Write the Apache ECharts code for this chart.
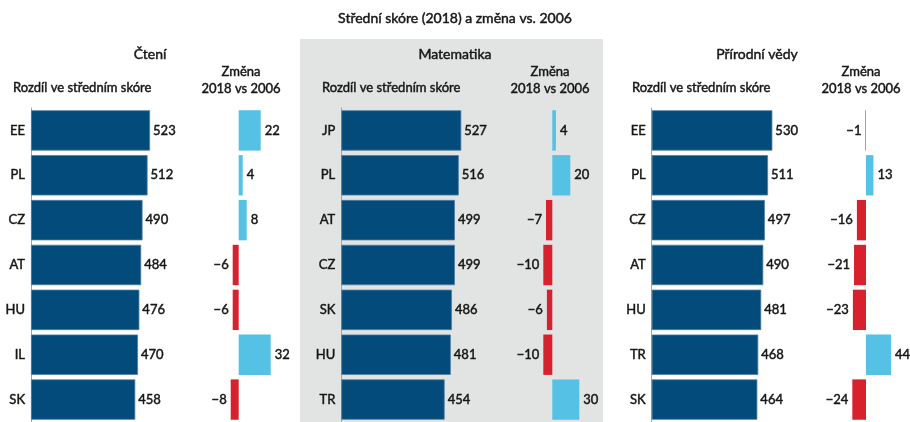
<!DOCTYPE html>
<html>
<head>
<meta charset="utf-8">
<script src="https://cdn.jsdelivr.net/npm/echarts@6/dist/echarts.min.js"></script>
<style>
html,body{margin:0;padding:0;background:#fff;}
#c{width:910px;height:422px;}
</style>
</head>
<body>
<div id="c"></div>
<script>
var chartTitle = 'Střední skóre (2018) a změna vs. 2006';
var panelTitles = ['Čtení', 'Matematika', 'Přírodní vědy'];
var scoreHeader = 'Rozdíl ve středním skóre';
var changeHeader = 'Změna\n2018 vs 2006';

var readingCountries = ['EE', 'PL', 'CZ', 'AT', 'HU', 'IL', 'SK'];
var readingScores = [523, 512, 490, 484, 476, 470, 458];
var readingChange = [22, 4, 8, -6, -6, 32, -8];

var mathCountries = ['JP', 'PL', 'AT', 'CZ', 'SK', 'HU', 'TR'];
var mathScores = [527, 516, 499, 499, 486, 481, 454];
var mathChange = [4, 20, -7, -10, -6, -10, 30];

var scienceCountries = ['EE', 'PL', 'CZ', 'AT', 'HU', 'TR', 'SK'];
var scienceScores = [530, 511, 497, 490, 481, 468, 464];
var scienceChange = [-1, 13, -16, -21, -23, 44, -24];

var FONT = 'Lato, "DejaVu Sans", sans-serif';
var TXT = '#161616';
var NAVY = '#034b7b';
var POS = '#55c1e4';
var NEG = '#d7222e';
var THICK = 0.45;

var panels = [
  {cats: readingCountries, scores: readingScores, change: readingChange,
   barLeft: 31, chLeft: 198.7, chWidth: 80, chMin: -40, chMax: 40, center: 150, chCenter: 241},
  {cats: mathCountries, scores: mathScores, change: mathChange,
   barLeft: 341.3, chLeft: 516.3, chWidth: 72, chMin: -40, chMax: 40, center: 455, chCenter: 550},
  {cats: scienceCountries, scores: scienceScores, change: scienceChange,
   barLeft: 651.7, chLeft: 843.2, chWidth: 57, chMin: -40, chMax: 60, center: 757, chCenter: 861}
];
var scoreLeftText = [13, 322, 632];

var grids = [], xAxes = [], yAxes = [], series = [], graphics = [];

function txtStyle(text, size, align) {
  return {text: text, font: size + 'px ' + FONT, fill: TXT, textAlign: align, textVerticalAlign: 'middle',
    stroke: TXT, lineWidth: THICK};
}

graphics.push({type: 'rect', z: -10, shape: {x: 300, y: 39, width: 303, height: 383}, style: {fill: '#e2e3e3'}});
graphics.push({type: 'text', x: 455, y: 18, style: txtStyle(chartTitle, 14, 'center')});

panels.forEach(function (p, i) {
  var gi = grids.length;
  grids.push({left: p.barLeft, top: 108, width: 136.6, height: 314});
  grids.push({left: p.chLeft, top: 108, width: p.chWidth, height: 314});
  xAxes.push({type: 'value', gridIndex: gi, min: 0, max: 600, show: false});
  xAxes.push({type: 'value', gridIndex: gi + 1, min: p.chMin, max: p.chMax, show: false});
  yAxes.push({type: 'category', gridIndex: gi, data: p.cats, inverse: true,
    axisLine: {show: true, lineStyle: {color: '#8fa9c2', width: 1}},
    axisTick: {show: false}, splitLine: {show: false},
    axisLabel: {margin: 6, fontSize: 13, fontFamily: FONT, color: TXT,
      textBorderColor: TXT, textBorderWidth: THICK}});
  yAxes.push({type: 'category', gridIndex: gi + 1, data: p.cats, inverse: true, show: false});
  series.push({type: 'bar', xAxisIndex: gi, yAxisIndex: gi, data: p.scores,
    barCategoryGap: '10%', silent: true,
    itemStyle: {color: NAVY, borderColor: '#4f7da3', borderWidth: 0.8},
    label: {show: true, position: 'right', distance: 3, fontSize: 13, fontFamily: FONT, color: TXT,
      textBorderColor: TXT, textBorderWidth: THICK}});
  series.push({type: 'bar', xAxisIndex: gi + 1, yAxisIndex: gi + 1,
    data: p.change.map(function (v) {
      return {value: v, itemStyle: {color: v >= 0 ? POS : NEG},
        label: {position: v >= 0 ? 'right' : 'left'}};
    }),
    barCategoryGap: '10%', silent: true,
    label: {show: true, distance: 4, fontSize: 13, fontFamily: FONT, color: TXT,
      textBorderColor: TXT, textBorderWidth: THICK,
      formatter: function (d) { return d.value < 0 ? '\u2212' + Math.abs(d.value) : String(d.value); }}});
  graphics.push({type: 'text', x: p.center, y: 54, style: txtStyle(panelTitles[i], 14, 'center')});
  graphics.push({type: 'text', x: scoreLeftText[i], y: 88, style: txtStyle(scoreHeader, 13, 'left')});
  var cs = txtStyle(changeHeader, 13, 'center');
  cs.lineHeight = 17;
  graphics.push({type: 'text', x: p.chCenter, y: 80, style: cs});
});

var chart = echarts.init(document.getElementById('c'), null, {renderer: 'canvas'});
chart.setOption({
  animation: false,
  grid: grids,
  xAxis: xAxes,
  yAxis: yAxes,
  series: series,
  graphic: graphics
});
</script>
</body>
</html>
